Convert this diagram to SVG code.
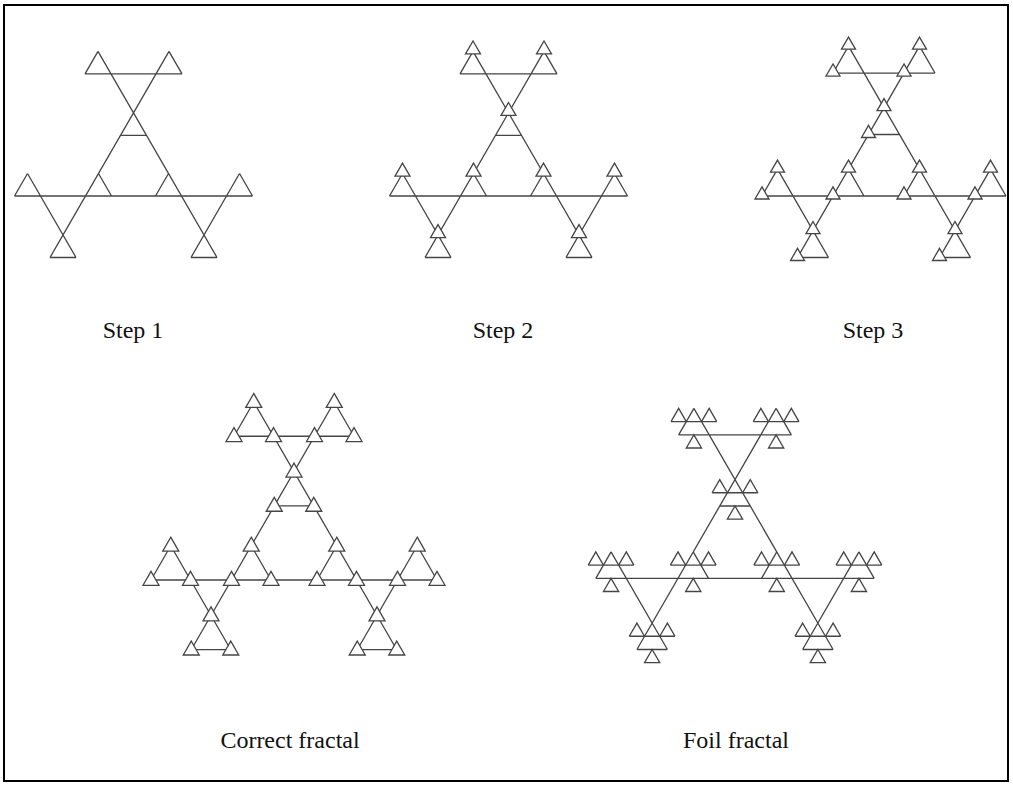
<svg xmlns="http://www.w3.org/2000/svg" width="1013" height="787" viewBox="0 0 1013 787">
<style>
.ln{fill:none;stroke:#454545;stroke-width:1.3;stroke-linecap:butt}
.tri{fill:#fff;stroke:#454545;stroke-width:1.3}
.lbl{font-family:"Liberation Serif","Times New Roman",serif;font-size:24px;fill:#111;text-anchor:middle}
</style>
<defs>
<path id="lines12" class="ln" d="M-119,0H119M-48.5,-122.11H48.5M-83.5,61.49L35.5,-144.63M-35.5,-144.63L83.5,61.49M-106,-22.52L-57.5,61.49M106,-22.52L57.5,61.49M-48.5,-122.11L-35.5,-144.63M48.5,-122.11L35.5,-144.63M-13,-60.62H13M-119,0L-106,-22.52M-35,-22.52L-22,0M-83.5,61.49H-57.5M22,0L35,-22.52M106,-22.52L119,0M57.5,61.49H83.5"/>
<path id="s2" class="tri" d="M0,-10.4L7.5,2.6H-7.5Z"/>
<path id="s3" class="tri" d="M0,-9.1L7,3H-7Z"/>
<path id="sc" class="tri" d="M0,-8.6L8,5.3H-8Z"/>
<path id="fd" class="ln" d="M-7.625,-13.205H38.125M-7.625,-13.205L0,-26.41L7.625,-13.205M22.875,-13.205L30.5,-26.41L38.125,-13.205M15.25,0L22.875,13.205H7.625Z"/>
</defs>
<rect x="4" y="5" width="1004" height="776" fill="#fff" stroke="#000" stroke-width="2"/>
<g id="step1" transform="translate(133.5,196)">
<use href="#lines12"/>
</g>
<g id="step2" transform="translate(508.5,196)">
<use href="#lines12"/>
<use href="#s2" x="-35.5" y="-144.63"/><use href="#s2" x="35.5" y="-144.63"/><use href="#s2" x="0" y="-83.14"/>
<use href="#s2" x="-106" y="-22.52"/><use href="#s2" x="-35" y="-22.52"/><use href="#s2" x="-70.5" y="38.97"/>
<use href="#s2" x="35" y="-22.52"/><use href="#s2" x="106" y="-22.52"/><use href="#s2" x="70.5" y="38.97"/>
</g>
<g id="step3" transform="translate(884,196)">
<path class="ln" d="M-122,0H122M-51,-122.97H51M-86.5,61.49L35.5,-149.82M-35.5,-149.82L86.5,61.49M-106.5,-26.85L-55.5,61.49M106.5,-26.85L55.5,61.49M-51,-122.97L-35.5,-149.82M51,-122.97L35.5,-149.82M-15.5,-61.48H15.5M-122,0L-106.5,-26.85M-35.5,-26.85L-20,0M-86.5,61.49H-55.5M20,0L35.5,-26.85M106.5,-26.85L122,0M55.5,61.49H86.5"/>
<use href="#s3" x="-35.5" y="-149.82"/><use href="#s3" x="-51" y="-122.97"/>
<use href="#s3" x="35.5" y="-149.82"/><use href="#s3" x="20" y="-122.97"/>
<use href="#s3" x="0" y="-88.33"/><use href="#s3" x="-15.5" y="-61.48"/>
<use href="#s3" x="-106.5" y="-26.85"/><use href="#s3" x="-122" y="0"/>
<use href="#s3" x="-35.5" y="-26.85"/><use href="#s3" x="-51" y="0"/>
<use href="#s3" x="-71" y="34.64"/><use href="#s3" x="-86.5" y="61.49"/>
<use href="#s3" x="35.5" y="-26.85"/><use href="#s3" x="20" y="0"/>
<use href="#s3" x="106.5" y="-26.85"/><use href="#s3" x="91" y="0"/>
<use href="#s3" x="71" y="34.64"/><use href="#s3" x="55.5" y="61.49"/>
</g>
<g id="correct" transform="translate(294,580)">
<path class="ln" d="M-143,0H143M-60,-143.76H60M-102.75,69.72L40.25,-177.97M-40.25,-177.97L102.75,69.72M-123.25,-34.21L-63.25,69.72M123.25,-34.21L63.25,69.72M-60,-143.76L-40.25,-177.97M60,-143.76L40.25,-177.97M-19.75,-74.04H19.75M-143,0L-123.25,-34.21M-42.75,-34.21L-23,0M-102.75,69.72H-63.25M23,0L42.75,-34.21M123.25,-34.21L143,0M63.25,69.72H102.75"/>
<use href="#sc" x="-60" y="-143.76"/><use href="#sc" x="-20.5" y="-143.76"/><use href="#sc" x="-40.25" y="-177.97"/>
<use href="#sc" x="20.5" y="-143.76"/><use href="#sc" x="60" y="-143.76"/><use href="#sc" x="40.25" y="-177.97"/>
<use href="#sc" x="-19.75" y="-74.04"/><use href="#sc" x="19.75" y="-74.04"/><use href="#sc" x="0" y="-108.25"/>
<use href="#sc" x="-143" y="0"/><use href="#sc" x="-103.5" y="0"/><use href="#sc" x="-123.25" y="-34.21"/>
<use href="#sc" x="-62.5" y="0"/><use href="#sc" x="-23" y="0"/><use href="#sc" x="-42.75" y="-34.21"/>
<use href="#sc" x="-102.75" y="69.72"/><use href="#sc" x="-63.25" y="69.72"/><use href="#sc" x="-83" y="35.51"/>
<use href="#sc" x="23" y="0"/><use href="#sc" x="62.5" y="0"/><use href="#sc" x="42.75" y="-34.21"/>
<use href="#sc" x="103.5" y="0"/><use href="#sc" x="143" y="0"/><use href="#sc" x="123.25" y="-34.21"/>
<use href="#sc" x="63.25" y="69.72"/><use href="#sc" x="102.75" y="69.72"/><use href="#sc" x="83" y="35.51"/>
</g>
<g id="foil" transform="translate(735,578.3)">
<path class="ln" d="M-139.2,0H139.2M-56.35,-143.5H56.35M-98.1,71.18L41.1,-169.91M-41.1,-169.91L98.1,71.18M-123.95,-26.41L-67.6,71.18M123.95,-26.41L67.6,71.18M-56.35,-143.5L-41.1,-169.91M56.35,-143.5L41.1,-169.91M-15.25,-72.32H15.25M-139.2,0L-123.95,-26.41M-41.75,-26.41L-26.5,0M-98.1,71.18H-67.6M26.5,0L41.75,-26.41M123.95,-26.41L139.2,0M67.6,71.18H98.1"/>
<use href="#fd" x="-56.35" y="-143.5"/><use href="#fd" x="25.85" y="-143.5"/><use href="#fd" x="-15.25" y="-72.32"/>
<use href="#fd" x="-139.2" y="0"/><use href="#fd" x="-57" y="0"/><use href="#fd" x="-98.1" y="71.18"/>
<use href="#fd" x="26.5" y="0"/><use href="#fd" x="108.7" y="0"/><use href="#fd" x="67.6" y="71.18"/>
</g>
<g id="labels">
<text class="lbl" x="133" y="338">Step 1</text>
<text class="lbl" x="503" y="338">Step 2</text>
<text class="lbl" x="873" y="338">Step 3</text>
<text class="lbl" x="290" y="748">Correct fractal</text>
<text class="lbl" x="736" y="748">Foil fractal</text>
</g>
</svg>
